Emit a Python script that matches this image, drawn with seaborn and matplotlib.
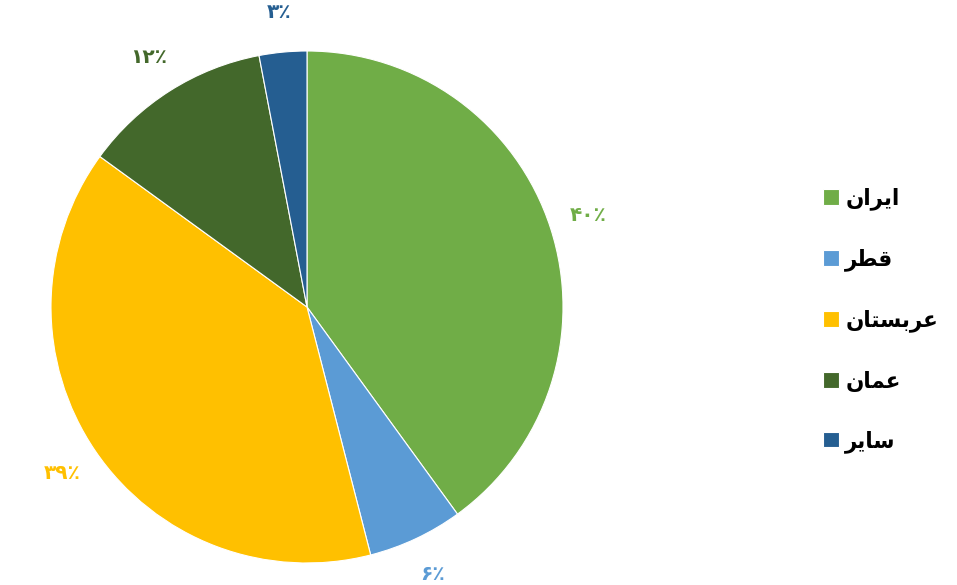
import matplotlib
matplotlib.use("Agg")
import matplotlib.pyplot as plt
import seaborn as sns

# Data (legend labels given in shaped, visual-order Arabic presentation forms)
categories = ["ایران", "قطر", "عربستان", "عمان", "سایر"]
categories_display = [
    "\uFEE5\uFE8D\uFEAE\uFEF3\uFE8D",              # ایران
    "\uFEAE\uFEC4\uFED7",                          # قطر
    "\uFEE5\uFE8E\uFE98\uFEB4\uFE91\uFEAE\uFECB",  # عربستان
    "\uFEE5\uFE8E\uFEE4\uFECB",                    # عمان
    "\uFEAE\uFEF3\uFE8E\uFEB3",                    # سایر
]
values = [40, 6, 39, 12, 3]
colors = ["#70AD47", "#5B9BD5", "#FFC000", "#43682B", "#255E91"]

sns.set_theme(style="white")
plt.rcParams["font.family"] = ["DejaVu Sans"]

fa_digits = str.maketrans("0123456789", "۰۱۲۳۴۵۶۷۸۹")
pct_labels = [str(v).translate(fa_digits) + "\u066A" for v in values]

fig = plt.figure(figsize=(9.57, 5.85), dpi=100)
ax = fig.add_axes([51 / 957, (585 - 307 - 256) / 585, 512 / 957, 512 / 585])

wedges, texts = ax.pie(
    values,
    colors=colors,
    startangle=90,
    counterclock=False,
    labels=pct_labels,
    labeldistance=1.155,
    wedgeprops=dict(edgecolor="white", linewidth=0.8),
    textprops=dict(fontsize=14.5, fontweight="bold"),
)
for t, c in zip(texts, colors):
    t.set_color(c)
    t.set_ha("center")
    t.set_va("center")
ax.set_xlim(-1, 1)
ax.set_ylim(-1, 1)
ax.set_aspect("equal")
ax.axis("off")

leg = fig.legend(
    wedges,
    categories_display,
    loc="center left",
    bbox_to_anchor=(804 / 957, (585 - 320) / 585),
    frameon=False,
    prop=dict(size=15.5, weight="bold"),
    handlelength=0.72,
    handleheight=0.72,
    handletextpad=0.3,
    labelspacing=1.78,
)
for txt in leg.get_texts():
    txt.set_color("#000000")

fig.savefig("out.png", dpi=100)
